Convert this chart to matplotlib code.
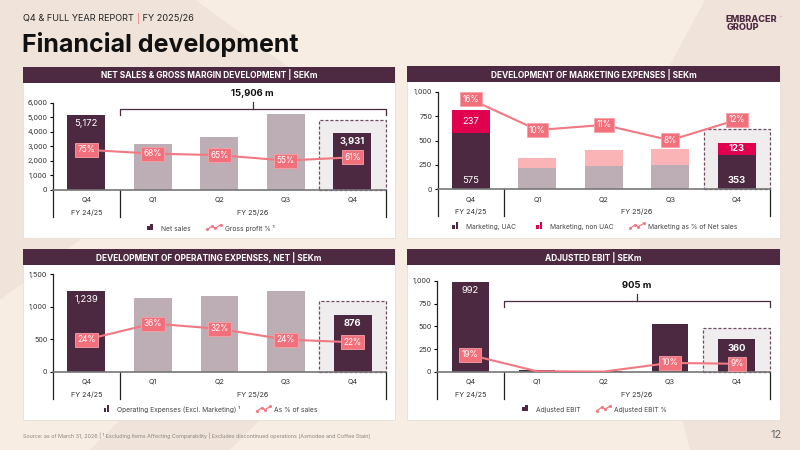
import numpy as np
import matplotlib
matplotlib.use('Agg')
import matplotlib.pyplot as plt
from matplotlib.patches import Rectangle, Polygon
from matplotlib.lines import Line2D
from matplotlib.legend_handler import HandlerBase

plt.rcParams['font.family'] = ['Inter', 'DejaVu Sans']

# ---- data ----
quarters = ['Q4', 'Q1', 'Q2', 'Q3', 'Q4']
fiscal_years = ['FY 24/25', 'FY 25/26']

net_sales = [5172, 3150, 3625, 5200, 3931]
gross_margin_pct = [75, 68, 65, 55, 61]
net_sales_total = '15,906 m'

mkt_uac = [575, 220, 240, 250, 353]
mkt_non_uac = [237, 100, 160, 165, 123]
mkt_pct = [16, 10, 11, 8, 12]

opex = [1239, 1127, 1158, 1244, 876]
opex_pct = [24, 36, 32, 24, 22]

adj_ebit = [992, 16, 3, 526, 360]
adj_ebit_pct = [19, 0.5, 0.1, 10, 9]
ebit_total = '905 m'

# ---- colours ----
DARK = '#4D2941'
LIGHT = '#BDADB5'
MAGENTA = '#E0004D'
LPINK = '#FBB4B6'
LINE = '#F27883'
BOXFILL = '#EFEDEE'
HEADER = '#4E2A42'
W, H = 800, 450


def fbox(x0, y0, x1, y1):
    return [x0 / W, 1 - y1 / H, (x1 - x0) / W, (y1 - y0) / H]


fig = plt.figure(figsize=(8, 4.5), dpi=100)
fig.patch.set_facecolor('#F8EDE2')

# background swooshes
for pts in [[(0, 0), (195, 0), (300, 75), (0, 300)],
            [(705, 0), (800, 0), (800, 450), (690, 450), (640, 250), (640, 120)],
            [(90, 450), (230, 450), (260, 420), (120, 420)]]:
    fig.patches.append(Polygon([(x / W, 1 - y / H) for x, y in pts], closed=True,
                               transform=fig.transFigure, fc='#F0E4DA', ec='none', zorder=0))

# header text (three pieces placed one after the other)
renderer = fig.canvas.get_renderer()
xpos = 23
for s, col in [('Q4 & FULL YEAR REPORT ', '#222222'), ('|', LINE), (' FY 2025/26', '#222222')]:
    t = fig.text(xpos / W, 1 - 18 / H, s, fontsize=6.6, color=col, va='center')
    xpos += t.get_window_extent(renderer).width

fig.text(22 / W, 1 - 52 / H, 'Financial development', fontsize=18, fontweight='bold',
         color='#111111', va='baseline')
fig.text(725 / W, 1 - 19 / H, 'EMBRACER', fontsize=6.6, fontweight='heavy', color=HEADER, va='center')
fig.text(778 / W, 1 - 16 / H, '+', fontsize=4, color='#C9A9B6', va='center')
fig.text(727 / W, 1 - 28 / H, 'GROUP', fontsize=6.6, fontweight='heavy', color=HEADER, va='center')

fig.text(23 / W, 1 - 436 / H,
         'Source: as of March 31, 2026 | \u00b9 Excluding Items Affecting Comparability | '
         'Excludes discontinued operations (Asmodee and Coffee Stain)',
         fontsize=3.9, color='#8A8580', va='center')
fig.text(782 / W, 1 - 435 / H, '12', fontsize=8, color='#666666', va='center', ha='right')


def panel(x0, y0, x1, y1, title):
    fig.patches.append(Rectangle((x0 / W, 1 - y1 / H), (x1 - x0) / W, (y1 - y0) / H,
                                 transform=fig.transFigure, fc='white', ec='#E8DDD3', lw=0.6, zorder=1))
    fig.patches.append(Rectangle((x0 / W, 1 - (y0 + 16) / H), (x1 - x0) / W, 16 / H,
                                 transform=fig.transFigure, fc=HEADER, ec='none', zorder=2))
    fig.text((x0 + x1) / 2 / W, 1 - (y0 + 8.3) / H, title, color='white', fontsize=6,
             fontweight='bold', ha='center', va='center', zorder=3)


panel(23, 66.7, 395, 238, 'NET SALES & GROSS MARGIN DEVELOPMENT | SEKm')
panel(407, 66, 780, 238, 'DEVELOPMENT OF MARKETING EXPENSES | SEKm')
panel(23, 249, 395, 420, 'DEVELOPMENT OF OPERATING EXPENSES, NET | SEKm')
panel(407, 249, 780, 420, 'ADJUSTED EBIT | SEKm')


def make_axes(x0, y0, x1, y1, ymax, yticks, pct_lim):
    ax = fig.add_axes(fbox(x0, y0, x1, y1))
    ax.set_zorder(5)
    ax.patch.set_visible(False)
    ax.set_xlim(-0.5, 4.5)
    ax.set_ylim(0, ymax)
    ax.set_yticks(yticks, [f'{t:,}' for t in yticks])
    ax.tick_params(axis='y', length=2, width=0.8, labelsize=5.2, labelcolor='#333333', pad=2)
    for s in ['top', 'right']:
        ax.spines[s].set_visible(False)
    ax.spines['left'].set_linewidth(0.9)
    ax.spines['left'].set_color('#222222')
    ax.spines['bottom'].set_color('#777777')
    ax.spines['bottom'].set_linewidth(1.2)
    ax.set_xticks(range(5), quarters)
    ax.tick_params(axis='x', length=0, pad=5, labelsize=5.2, labelcolor='#333333')
    hp = y1 - y0
    tr = ax.get_xaxis_transform()
    for x in [-0.5, 0.5, 4.5]:
        ax.plot([x, x], [0, -27 / hp], transform=tr, clip_on=False, color='#222222', lw=0.9)
    ax.text(0, -22.7 / hp, fiscal_years[0], transform=tr, ha='center', va='center',
            fontsize=5.2, color='#333333')
    ax.text(2.5, -22.7 / hp, fiscal_years[1], transform=tr, ha='center', va='center',
            fontsize=5.2, color='#333333')
    ax2 = ax.twinx()
    ax2.set_zorder(6)
    ax2.set_ylim(*pct_lim)
    ax2.axis('off')
    return ax, ax2


def dashed_box(ax, top):
    ax.add_patch(Rectangle((3.5, 0), 1.0, top, fc=BOXFILL, ec='#6E4D63', lw=0.9,
                           ls=(0, (2.5, 1.5)), zorder=0.5, clip_on=False))


def pct_line(ax2, vals):
    x = np.arange(len(vals))
    ax2.plot(x, vals, color=LINE, lw=1.5, zorder=3)
    for i, v in enumerate(vals):
        if v < 1:
            continue
        ax2.text(i, v, f'{v:g}%', ha='center', va='center', color='white', fontsize=6,
                 zorder=4, bbox=dict(boxstyle='square,pad=0.3', fc='#F2707C', ec='#F7A0A7', lw=0.6))


def bar_labels(ax, vals):
    for i, v in enumerate(vals):
        if i in (0, 4):
            ax.annotate(f'{v:,}', (i, v), xytext=(0, -9), textcoords='offset pixels',
                        ha='center', va='center', color='white', fontsize=6.8,
                        fontweight='bold' if i == 4 else 'normal', zorder=4)


bar_w = 0.57
bar_cols = [DARK, LIGHT, LIGHT, LIGHT, DARK]

# ---- top-left: net sales ----
ax, ax2 = make_axes(53, 102.7, 385.7, 190, 6000, range(0, 6001, 1000), (0, 163))
dashed_box(ax, 4800)
ax.bar(range(5), net_sales, width=bar_w, color=bar_cols, zorder=2)
bar_labels(ax, net_sales)
pct_line(ax2, gross_margin_pct)
ax.plot([0.5, 0.5, 4.5, 4.5], [5150, 5570, 5570, 5150], color=DARK, lw=0.9, clip_on=False)
ax.plot([2.5, 2.5], [5570, 6070], color=DARK, lw=0.9, clip_on=False)
ax.text(2.5, 6650, net_sales_total, ha='center', va='center', fontsize=6.8, fontweight='bold',
        color='#111111')

# ---- top-right: marketing ----
ax, ax2 = make_axes(437.7, 91.7, 770, 189.3, 1000, [0, 250, 500, 750, 1000], (-1.6, 17.5))
dashed_box(ax, 615)
ax.bar(range(5), mkt_uac, width=bar_w, color=bar_cols, zorder=2)
ax.bar(range(5), mkt_non_uac, bottom=mkt_uac, width=bar_w,
       color=[MAGENTA, LPINK, LPINK, LPINK, MAGENTA], zorder=2)
for i in (0, 4):
    ax.annotate(f'{mkt_uac[i]:,}', (i, 0), xytext=(0, 8.6), textcoords='offset pixels',
                ha='center', va='center', color='white', fontsize=6.8,
                fontweight='bold' if i == 4 else 'normal', zorder=4)
    ax.text(i, mkt_uac[i] + mkt_non_uac[i] / 2, f'{mkt_non_uac[i]:,}', ha='center', va='center',
            color='white', fontsize=6.8, fontweight='bold' if i == 4 else 'normal', zorder=4)
pct_line(ax2, mkt_pct)

# ---- bottom-left: opex ----
ax, ax2 = make_axes(53, 274, 386, 371.7, 1500, [0, 500, 1000, 1500], (0, 73))
dashed_box(ax, 1090)
ax.bar(range(5), opex, width=bar_w, color=bar_cols, zorder=2)
bar_labels(ax, opex)
pct_line(ax2, opex_pct)

# ---- bottom-right: adjusted EBIT ----
ax, ax2 = make_axes(437, 281, 770, 371.7, 1000, [0, 250, 500, 750, 1000], (0, 103))
dashed_box(ax, 478)
ax.bar(range(5), adj_ebit, width=0.55, color=DARK, zorder=2)
bar_labels(ax, adj_ebit)
pct_line(ax2, adj_ebit_pct)
ax.plot([0.5, 0.5, 4.5, 4.5], [717, 783, 783, 717], color=DARK, lw=0.9, clip_on=False)
ax.plot([2.5, 2.5], [783, 857], color=DARK, lw=0.9, clip_on=False)
ax.text(2.5, 948, ebit_total, ha='center', va='center', fontsize=6.8, fontweight='bold',
        color='#111111', clip_on=False)


# ---- legends ----
class BarIcon(HandlerBase):
    def create_artists(self, legend, orig, xd, yd, w, h, fs, trans):
        c = orig.get_facecolor()
        s = h * 1.1
        x0 = xd + w / 2 - s / 2
        return [Rectangle((x0, yd), s * 0.42, s * 0.6, fc=c, ec='none', transform=trans),
                Rectangle((x0 + s * 0.52, yd), s * 0.42, s, fc=c, ec='none', transform=trans)]


class LineIcon(HandlerBase):
    def create_artists(self, legend, orig, xd, yd, w, h, fs, trans):
        xs = xd + np.array([0, 0.35, 0.6, 1.0]) * w
        ys = yd + np.array([0.1, 0.7, 0.35, 0.95]) * h
        return [Line2D(xs, ys, color=LINE, lw=0.9, marker='o', ms=1.2, transform=trans)]


def legend(cx, cy, entries):
    handles, labels, hmap = [], [], {}
    for kind, col, lab in entries:
        if kind == 'bar':
            hnd = Rectangle((0, 0), 1, 1, fc=col)
            hmap[hnd] = BarIcon()
        else:
            hnd = Line2D([], [], color=col)
            hmap[hnd] = LineIcon()
        handles.append(hnd)
        labels.append(lab)
    fig.legend(handles, labels, handler_map=hmap, loc='center', bbox_to_anchor=(cx / W, 1 - cy / H),
               ncol=len(entries), frameon=False, fontsize=4.8, labelcolor='#444444',
               handlelength=2.0, handleheight=0.9, columnspacing=2.5, handletextpad=0.6)


legend(209, 228, [('bar', DARK, 'Net sales'), ('line', LINE, 'Gross profit % \u00b9')])
legend(593, 227, [('bar', DARK, 'Marketing, UAC'), ('bar', MAGENTA, 'Marketing, non UAC'),
                  ('line', LINE, 'Marketing as % of Net sales')])
legend(209, 409.5, [('bar', DARK, 'Operating Expenses (Excl. Marketing) \u00b9'),
                    ('line', LINE, 'As % of sales')])
legend(593, 409.5, [('bar', DARK, 'Adjusted EBIT'), ('line', LINE, 'Adjusted EBIT %')])

fig.savefig('out.png', dpi=100, facecolor=fig.get_facecolor())
